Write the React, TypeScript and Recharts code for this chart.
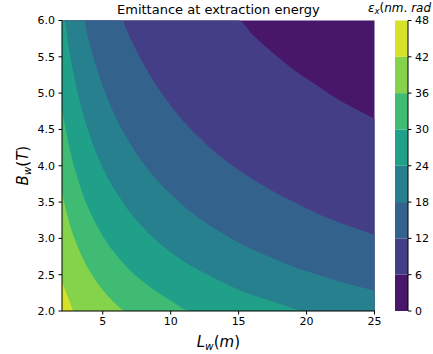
import React from 'react';
import { ComposedChart, Area, XAxis, YAxis, CartesianGrid, BarChart, Bar } from 'recharts';

// undulator length L_w (m) where the contour boundaries are read
const lengths = [2, 2.2, 2.5, 2.9, 3, 3.6, 4, 5, 6, 6.5, 6.6, 7, 8, 9, 10, 11.5, 12, 13, 14, 15, 16, 18, 19.5, 20, 22, 25];

// B_w (T) of each contour level along lengths (6 = off the top, 2 = below the bottom)
const b6 = [6, 6, 6, 6, 6, 6, 6, 6, 6, 6, 6, 6, 6, 6, 6, 6, 6, 6, 6, 6, 5.81, 5.48, 5.26, 5.2, 4.95, 4.65];
const b12 = [6, 6, 6, 6, 6, 6, 6, 6, 6, 5.99, 5.94, 5.77, 5.4, 5.09, 4.83, 4.5, 4.41, 4.23, 4.08, 3.94, 3.82, 3.6, 3.46, 3.41, 3.25, 3.05];
const b18 = [6, 6, 6, 6, 6, 6, 5.7, 5.1, 4.65, 4.47, 4.44, 4.31, 4.03, 3.8, 3.61, 3.36, 3.29, 3.16, 3.05, 2.94, 2.85, 2.69, 2.58, 2.55, 2.43, 2.28];
const b24 = [6, 5.99, 5.62, 5.22, 5.13, 4.68, 4.44, 3.97, 3.63, 3.49, 3.46, 3.36, 3.14, 2.96, 2.81, 2.62, 2.57, 2.47, 2.38, 2.29, 2.22, 2.1, 2.01, 2, 2, 2];
const b30 = [4.8, 4.57, 4.29, 3.98, 3.92, 3.57, 3.39, 3.03, 2.77, 2.66, 2.64, 2.56, 2.4, 2.26, 2.14, 2, 2, 2, 2, 2, 2, 2, 2, 2, 2, 2];
const b36 = [3.63, 3.46, 3.24, 3.01, 2.96, 2.7, 2.56, 2.29, 2.09, 2.01, 2, 2, 2, 2, 2, 2, 2, 2, 2, 2, 2, 2, 2, 2, 2, 2];
const b42 = [2.41, 2.3, 2.16, 2, 2, 2, 2, 2, 2, 2, 2, 2, 2, 2, 2, 2, 2, 2, 2, 2, 2, 2, 2, 2, 2, 2];

const xTicks = [5, 10, 15, 20, 25];
const yTicks = [2, 2.5, 3, 3.5, 4, 4.5, 5, 5.5, 6];
const levels = [0, 6, 12, 18, 24, 30, 36, 42, 48];

// viridis sampled at band midpoints
const bandColors = ['#481769', '#433e85', '#33628d', '#27808e', '#20a088', '#40bb73', '#84d34a', '#d5e228'];

const rows = lengths.map((L, i) => ({
  L,
  b6: b6[i],
  b12: b12[i],
  b18: b18[i],
  b24: b24[i],
  b30: b30[i],
  b36: b36[i],
  b42: b42[i],
}));
const contourKeys = ['b6', 'b12', 'b18', 'b24', 'b30', 'b36', 'b42'];

const cbRow: Record<string, any> = { name: 'cb' };
levels.slice(1).forEach((lv, i) => {
  cbRow['s' + i] = lv - levels[i];
});

const font = 'DejaVu Sans';
const tickStyle = { fill: '#000', fontSize: 11, fontFamily: font };
const black = { stroke: '#000' };

// title, colorbar caption and x label, all hung on the bottom axis
const Texts = () => (
  <g fontFamily={font} fill="#000">
    <text x={218.4} y={14} textAnchor="middle" fontSize={13}>
      Emittance at extraction energy
    </text>
    <text x={368} y={11.5} fontSize={12}>
      <tspan fontStyle="italic">ε</tspan>
      <tspan fontStyle="italic" fontSize={8.5} dy={2.5}>x</tspan>
      <tspan dy={-2.5}>(</tspan>
      <tspan fontStyle="italic">nm</tspan>
      <tspan>.</tspan>
      <tspan fontStyle="italic"> rad</tspan>
    </text>
    <text x={218.4} y={347} textAnchor="middle" fontSize={15}>
      <tspan fontStyle="italic">L</tspan>
      <tspan fontStyle="italic" fontSize={10.5} dy={3}>w</tspan>
      <tspan dy={-3}>(</tspan>
      <tspan fontStyle="italic">m</tspan>
      <tspan>)</tspan>
    </text>
  </g>
);

const YLabel = () => (
  <text
    x={0}
    y={0}
    transform="translate(28,165.7) rotate(-90)"
    textAnchor="middle"
    fontSize={15}
    fontFamily={font}
    fill="#000"
  >
    <tspan fontStyle="italic">B</tspan>
    <tspan fontStyle="italic" fontSize={10.5} dy={3}>w</tspan>
    <tspan dy={-3}>(</tspan>
    <tspan fontStyle="italic">T</tspan>
    <tspan>)</tspan>
  </text>
);

export default function App() {
  return (
    <div style={{ position: 'absolute', left: 0, top: 0, width: 433, height: 354, background: '#fff' }}>
      <div style={{ position: 'absolute', left: 0, top: 0 }}>
        <ComposedChart
          width={433}
          height={354}
          data={rows}
          margin={{ top: 20.5, right: 58.5, bottom: 13, left: 22 }}
        >
          <CartesianGrid horizontal={false} vertical={false} fill={bandColors[0]} fillOpacity={1} />
          {contourKeys.map((k, i) => (
            <Area
              key={k}
              type="monotone"
              dataKey={k}
              baseValue={2}
              fill={bandColors[i + 1]}
              fillOpacity={1}
              stroke="none"
              dot={false}
              activeDot={false}
              isAnimationActive={false}
            />
          ))}
          <XAxis
            dataKey="L"
            type="number"
            domain={[2, 25]}
            ticks={xTicks}
            height={30}
            tickSize={3.5}
            tickMargin={3}
            tick={tickStyle}
            tickLine={black}
            axisLine={black}
            label={<Texts />}
          />
          <YAxis
            type="number"
            domain={[2, 6]}
            ticks={yTicks}
            width={40}
            tickSize={3.5}
            tickMargin={3.5}
            tick={tickStyle}
            tickLine={black}
            axisLine={black}
            tickFormatter={(v: number) => v.toFixed(1)}
            label={<YLabel />}
          />
          <XAxis
            xAxisId="top"
            orientation="top"
            type="number"
            domain={[2, 25]}
            height={0}
            tick={false}
            tickLine={false}
            axisLine={black}
          />
          <YAxis
            yAxisId="right"
            orientation="right"
            type="number"
            domain={[2, 6]}
            width={0}
            tick={false}
            tickLine={false}
            axisLine={black}
          />
        </ComposedChart>
      </div>
      <div style={{ position: 'absolute', left: 395, top: 0 }}>
        <BarChart
          width={38}
          height={354}
          data={[cbRow]}
          barCategoryGap={0}
          barGap={0}
          margin={{ top: 20.5, right: 0, bottom: 43, left: 0 }}
        >
          {bandColors.map((c, i) => (
            <Bar key={i} dataKey={'s' + i} stackId="cb" fill={c} isAnimationActive={false} />
          ))}
          <XAxis dataKey="name" height={0} tick={false} tickLine={false} axisLine={black} />
          <XAxis xAxisId="top" orientation="top" height={0} tick={false} tickLine={false} axisLine={black} />
          <YAxis
            orientation="right"
            type="number"
            domain={[0, 48]}
            ticks={levels}
            width={25}
            tickSize={3.5}
            tickMargin={3.5}
            tick={tickStyle}
            tickLine={black}
            axisLine={black}
          />
          <YAxis yAxisId="left" orientation="left" width={0} domain={[0, 48]} tick={false} tickLine={false} axisLine={black} />
        </BarChart>
      </div>
    </div>
  );
}
